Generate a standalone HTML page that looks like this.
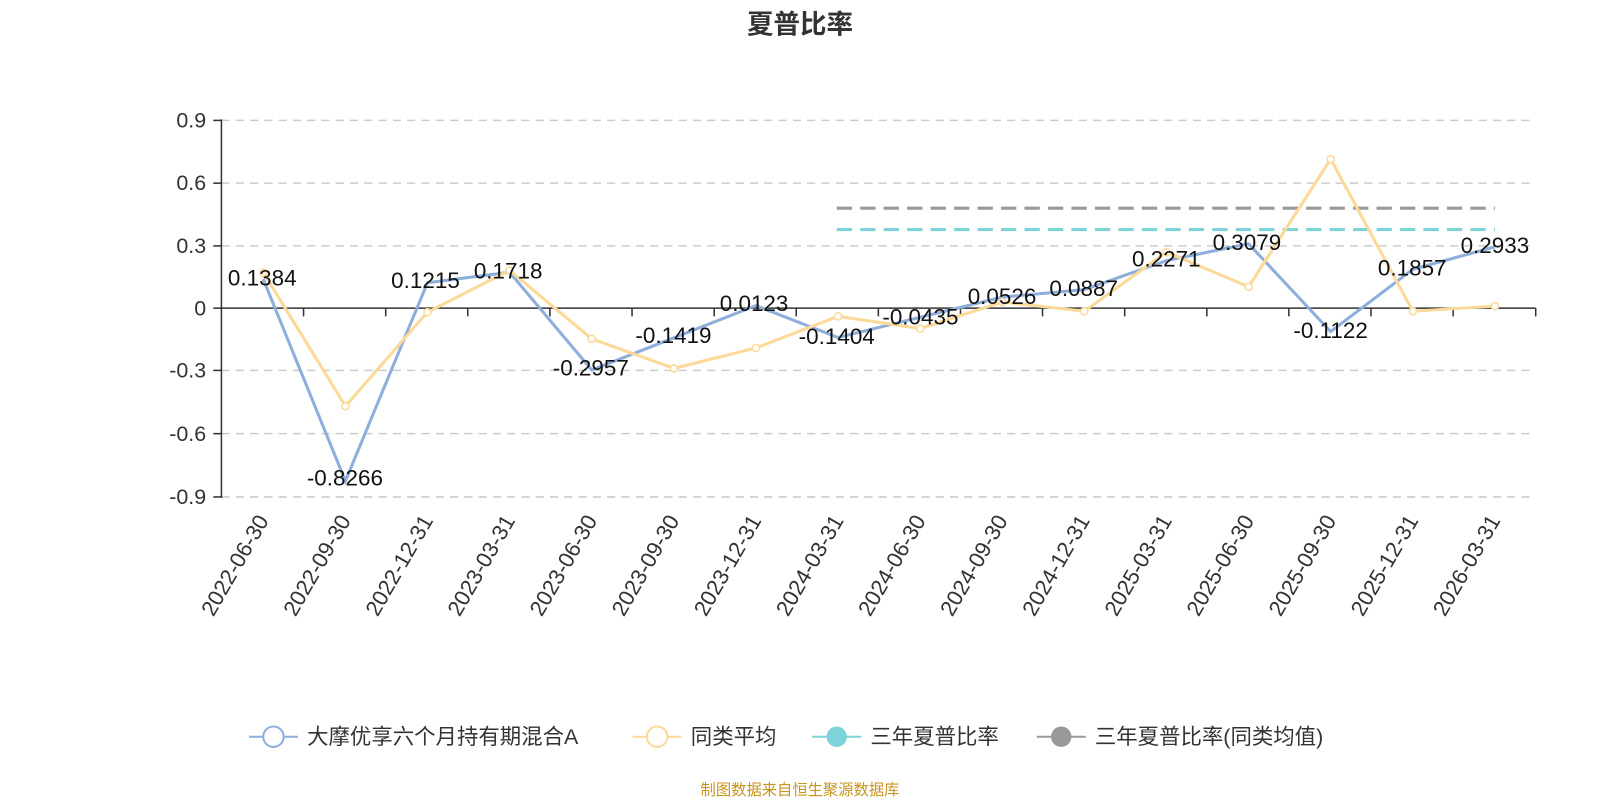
<!DOCTYPE html>
<html><head><meta charset="utf-8"><style>
body{margin:0;background:#fff;width:1600px;height:800px;overflow:hidden}
text{font-family:"Liberation Sans","Noto Sans CJK SC",sans-serif}
</style></head><body>
<svg width="1600" height="800" xmlns="http://www.w3.org/2000/svg">
<g transform="scale(1.0204)">
<text x="784" y="33" text-anchor="middle" font-size="26" font-weight="bold" fill="#333">夏普比率</text>
<g stroke="#ccc" stroke-width="1.5" stroke-dasharray="8,6">
<line x1="217" y1="118" x2="1505" y2="118"/><line x1="217" y1="179.5" x2="1505" y2="179.5"/>
<line x1="217" y1="241" x2="1505" y2="241"/><line x1="217" y1="363" x2="1505" y2="363"/>
<line x1="217" y1="425" x2="1505" y2="425"/><line x1="217" y1="487" x2="1505" y2="487"/>
</g>
<line x1="217" y1="117" x2="217" y2="488" stroke="#333" stroke-width="1.5"/>
<line x1="217" y1="302" x2="1505" y2="302" stroke="#333" stroke-width="1.5"/>
<g stroke="#333" stroke-width="1.5">
<line x1="209" y1="118" x2="217" y2="118"/><line x1="209" y1="179.5" x2="217" y2="179.5"/><line x1="209" y1="241" x2="217" y2="241"/><line x1="209" y1="302" x2="217" y2="302"/><line x1="209" y1="363" x2="217" y2="363"/><line x1="209" y1="425" x2="217" y2="425"/><line x1="209" y1="487" x2="217" y2="487"/>
<path d="M297.5 302v8M378 302v8M458.4 302v8M538.9 302v8M619.4 302v8M699.9 302v8M780.3 302v8M860.8 302v8M941.3 302v8M1021.7 302v8M1102.2 302v8M1182.7 302v8M1263.1 302v8M1343.6 302v8M1424.1 302v8M1505 302v8"/>
</g>
<g font-size="21" fill="#333" text-anchor="end">
<text x="202" y="125">0.9</text><text x="202" y="186">0.6</text><text x="202" y="248">0.3</text><text x="202" y="309">0</text><text x="202" y="370">-0.3</text><text x="202" y="432">-0.6</text><text x="202" y="494">-0.9</text>
</g>
<g font-size="21.5" fill="#333" text-anchor="end">
<text transform="translate(264,510) rotate(-60)">2022-06-30</text>
<text transform="translate(344.5,510) rotate(-60)">2022-09-30</text>
<text transform="translate(425,510) rotate(-60)">2022-12-31</text>
<text transform="translate(505.4,510) rotate(-60)">2023-03-31</text>
<text transform="translate(585.9,510) rotate(-60)">2023-06-30</text>
<text transform="translate(666.4,510) rotate(-60)">2023-09-30</text>
<text transform="translate(746.8,510) rotate(-60)">2023-12-31</text>
<text transform="translate(827.3,510) rotate(-60)">2024-03-31</text>
<text transform="translate(907.8,510) rotate(-60)">2024-06-30</text>
<text transform="translate(988.2,510) rotate(-60)">2024-09-30</text>
<text transform="translate(1068.7,510) rotate(-60)">2024-12-31</text>
<text transform="translate(1149.2,510) rotate(-60)">2025-03-31</text>
<text transform="translate(1229.6,510) rotate(-60)">2025-06-30</text>
<text transform="translate(1310.1,510) rotate(-60)">2025-09-30</text>
<text transform="translate(1390.6,510) rotate(-60)">2025-12-31</text>
<text transform="translate(1471,510) rotate(-60)">2026-03-31</text>
</g>
<line x1="820" y1="204" x2="1465" y2="204" stroke="#999" stroke-width="3" stroke-dasharray="15,8"/>
<line x1="820" y1="225" x2="1465" y2="225" stroke="#7dd3d8" stroke-width="3" stroke-dasharray="15,8"/>
<polyline fill="none" stroke="#8eaedc" stroke-width="3" points="258,273.6 338.5,471.5 418.9,277.1 499.4,266.8 579.9,362.6 660.4,331.1 740.8,299.5 821.3,330.8 901.8,310.9 982.2,291.2 1062.7,283.8 1143.2,255.4 1223.6,238.9 1304.1,325 1384.6,263.9 1465,241.9"/>
<polyline fill="none" stroke="#fbd999" stroke-width="3" points="258,267 338.5,398 418.9,306 499.4,265 579.9,332 660.4,361 740.8,341 821.3,310 901.8,322 982.2,296 1062.7,305 1143.2,247 1223.6,281 1304.1,156 1384.6,305 1465,300"/>
<g fill="#fff" stroke="#fbd999" stroke-width="1.5">
<circle cx="258" cy="267" r="3.5"/><circle cx="338.5" cy="398" r="3.5"/><circle cx="418.9" cy="306" r="3.5"/><circle cx="499.4" cy="265" r="3.5"/><circle cx="579.9" cy="332" r="3.5"/><circle cx="660.4" cy="361" r="3.5"/><circle cx="740.8" cy="341" r="3.5"/><circle cx="821.3" cy="310" r="3.5"/><circle cx="901.8" cy="322" r="3.5"/><circle cx="982.2" cy="296" r="3.5"/><circle cx="1062.7" cy="305" r="3.5"/><circle cx="1143.2" cy="247" r="3.5"/><circle cx="1223.6" cy="281" r="3.5"/><circle cx="1304.1" cy="156" r="3.5"/><circle cx="1384.6" cy="305" r="3.5"/><circle cx="1465" cy="300" r="3.5"/>
</g>
<g font-size="22" fill="#111" text-anchor="middle">
<text x="257" y="280">0.1384</text><text x="338" y="476">-0.8266</text><text x="417" y="282">0.1215</text><text x="498" y="273">0.1718</text><text x="579" y="368">-0.2957</text><text x="660" y="336">-0.1419</text><text x="739" y="305">0.0123</text><text x="820" y="337">-0.1404</text><text x="902" y="318">-0.0435</text><text x="982" y="298">0.0526</text><text x="1062" y="290">0.0887</text><text x="1143" y="261">0.2271</text><text x="1222" y="245">0.3079</text><text x="1304" y="331">-0.1122</text><text x="1384" y="270">0.1857</text><text x="1465" y="248">0.2933</text>
</g>
<g font-size="21" fill="#333">
<line x1="244" y1="722" x2="292" y2="722" stroke="#8eaedc" stroke-width="2"/><circle cx="268" cy="722" r="10" fill="#fff" stroke="#8eaedc" stroke-width="2"/>
<text x="301" y="729">大摩优享六个月持有期混合A</text>
<line x1="620" y1="722" x2="668" y2="722" stroke="#fbd999" stroke-width="2"/><circle cx="644" cy="722" r="10" fill="#fff" stroke="#fbd999" stroke-width="2"/>
<text x="677" y="729">同类平均</text>
<line x1="796" y1="722" x2="844" y2="722" stroke="#7dd3d8" stroke-width="2"/><circle cx="820" cy="722" r="10" fill="#7dd3d8"/>
<text x="853" y="729">三年夏普比率</text>
<line x1="1016" y1="722" x2="1064" y2="722" stroke="#999" stroke-width="2"/><circle cx="1040" cy="722" r="10" fill="#999"/>
<text x="1073" y="729">三年夏普比率(同类均值)</text>
</g>
<text x="784" y="779" text-anchor="middle" font-size="15" fill="#c8941e">制图数据来自恒生聚源数据库</text>
</g>
</svg>
</body></html>
